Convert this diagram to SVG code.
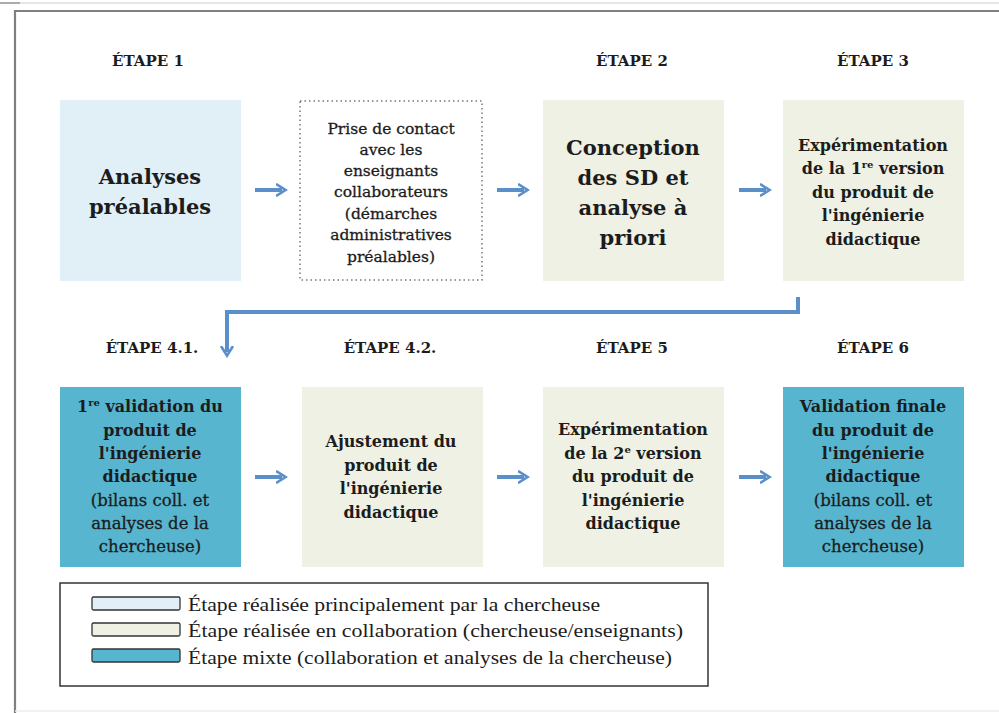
<svg xmlns="http://www.w3.org/2000/svg" width="999" height="713" viewBox="0 0 999 713">
<style>
text{font-family:"DejaVu Serif","Liberation Serif",serif;fill:#1c1c1c;text-anchor:middle}
.step{font-weight:bold;font-size:15px}
.big{font-weight:bold;font-size:21px}
.mid{font-weight:bold;font-size:16px}
.reg{font-weight:normal;font-size:16.5px;stroke:#1c1c1c;stroke-width:0.3}
.dot{font-weight:normal;font-size:15.5px;stroke:#1c1c1c;stroke-width:0.3}
.leg{font-family:"Liberation Serif",serif;font-size:19px;text-anchor:start}
.a{fill:#e1f0f7}.b{fill:#eef1e4}.c{fill:#57b5cf}
.conn{stroke:#5b8fca;stroke-width:4;fill:none}
</style>
<defs>
<marker id="ah" viewBox="0 0 10 10" refX="5" refY="5" markerWidth="3" markerHeight="3.5" orient="auto" markerUnits="strokeWidth">
<path d="M0,0 L8,5 L0,10" fill="none" stroke="#5b8fca" stroke-width="2.2"/>
</marker>
</defs>
<rect x="0" y="0" width="999" height="713" fill="#fff"/>
<line x1="0" y1="3" x2="999" y2="3" stroke="#e6e6e6" stroke-width="2"/>
<line x1="0" y1="3" x2="20" y2="3" stroke="#999" stroke-width="1.5"/>
<path d="M15,713 L15,11 L999,11" fill="none" stroke="#7f7f7f" stroke-width="2.2"/>
<line x1="15" y1="711" x2="999" y2="711" stroke="#eeeeee" stroke-width="1.5"/>

<g id="labels">
<text class="step" x="148" y="66">ÉTAPE 1</text>
<text class="step" x="632" y="66">ÉTAPE 2</text>
<text class="step" x="873" y="66">ÉTAPE 3</text>
<text class="step" x="152" y="353">ÉTAPE 4.1.</text>
<text class="step" x="390" y="353">ÉTAPE 4.2.</text>
<text class="step" x="632" y="353">ÉTAPE 5</text>
<text class="step" x="873" y="353">ÉTAPE 6</text>
</g>

<g id="n1"><rect class="a" x="60" y="100" width="181" height="181"/>
<text class="big" x="150" y="184">Analyses</text><text class="big" x="150" y="214">préalables</text></g>

<g id="n_contact"><rect x="300" y="101" width="182" height="179" fill="#fff" stroke="#777" stroke-width="1.5" stroke-dasharray="1.5,3"/>
<text class="dot" x="391" y="134">Prise de contact</text>
<text class="dot" x="391" y="155">avec les</text>
<text class="dot" x="391" y="176">enseignants</text>
<text class="dot" x="391" y="197">collaborateurs</text>
<text class="dot" x="391" y="219">(démarches</text>
<text class="dot" x="391" y="240">administratives</text>
<text class="dot" x="391" y="262">préalables)</text></g>

<g id="n2"><rect class="b" x="543" y="100" width="181" height="181"/>
<text class="big" x="633" y="155">Conception</text>
<text class="big" x="633" y="185">des SD et</text>
<text class="big" x="633" y="215">analyse à</text>
<text class="big" x="633" y="245">priori</text></g>

<g id="n3"><rect class="b" x="783" y="100" width="181" height="181"/>
<text class="mid" x="873" y="151">Expérimentation</text>
<text class="mid" x="873" y="174">de la 1<tspan font-size="10" dy="-6">re</tspan><tspan dy="6"> version</tspan></text>
<text class="mid" x="873" y="198">du produit de</text>
<text class="mid" x="873" y="221">l'ingénierie</text>
<text class="mid" x="873" y="245">didactique</text></g>

<g id="n41"><rect class="c" x="60" y="387" width="181" height="180"/>
<text class="mid" x="150" y="412">1<tspan font-size="10" dy="-6">re</tspan><tspan dy="6"> validation du</tspan></text>
<text class="mid" x="150" y="436">produit de</text>
<text class="mid" x="150" y="459">l'ingénierie</text>
<text class="mid" x="150" y="482">didactique</text>
<text class="reg" x="150" y="506">(bilans coll. et</text>
<text class="reg" x="150" y="529">analyses de la</text>
<text class="reg" x="150" y="552">chercheuse)</text></g>

<g id="n42"><rect class="b" x="302" y="387" width="181" height="180"/>
<text class="mid" x="391" y="447">Ajustement du</text>
<text class="mid" x="391" y="471">produit de</text>
<text class="mid" x="391" y="494">l'ingénierie</text>
<text class="mid" x="391" y="518">didactique</text></g>

<g id="n5"><rect class="b" x="543" y="387" width="181" height="180"/>
<text class="mid" x="633" y="435">Expérimentation</text>
<text class="mid" x="633" y="459">de la 2<tspan font-size="10" dy="-6">e</tspan><tspan dy="6"> version</tspan></text>
<text class="mid" x="633" y="482">du produit de</text>
<text class="mid" x="633" y="506">l'ingénierie</text>
<text class="mid" x="633" y="529">didactique</text></g>

<g id="n6"><rect class="c" x="783" y="387" width="181" height="180"/>
<text class="mid" x="873" y="412">Validation finale</text>
<text class="mid" x="873" y="436">du produit de</text>
<text class="mid" x="873" y="459">l'ingénierie</text>
<text class="mid" x="873" y="482">didactique</text>
<text class="reg" x="873" y="506">(bilans coll. et</text>
<text class="reg" x="873" y="529">analyses de la</text>
<text class="reg" x="873" y="552">chercheuse)</text></g>

<g id="connectors">
<line class="conn" x1="255" y1="190" x2="282" y2="190" marker-end="url(#ah)"/>
<line class="conn" x1="497" y1="190" x2="524" y2="190" marker-end="url(#ah)"/>
<line class="conn" x1="739" y1="190" x2="766" y2="190" marker-end="url(#ah)"/>
<line class="conn" x1="255" y1="477" x2="282" y2="477" marker-end="url(#ah)"/>
<line class="conn" x1="497" y1="477" x2="524" y2="477" marker-end="url(#ah)"/>
<line class="conn" x1="739" y1="477" x2="766" y2="477" marker-end="url(#ah)"/>
<path class="conn" d="M798,297 L798,312 L227,312 L227,352" marker-end="url(#ah)"/>
</g>

<g id="legend">
<rect x="60" y="583" width="648" height="103" fill="#fff" stroke="#333" stroke-width="1.5"/>
<rect class="a" x="92" y="597" width="88" height="13" rx="1.5" stroke="#333" stroke-width="1.3"/>
<rect class="b" x="92" y="623" width="88" height="13" rx="1.5" stroke="#333" stroke-width="1.3"/>
<rect class="c" x="92" y="649" width="88" height="13" rx="1.5" stroke="#333" stroke-width="1.3"/>
<text class="leg" x="188" y="611" textLength="412" lengthAdjust="spacingAndGlyphs">Étape réalisée principalement par la chercheuse</text>
<text class="leg" x="188" y="637" textLength="495" lengthAdjust="spacingAndGlyphs">Étape réalisée en collaboration (chercheuse/enseignants)</text>
<text class="leg" x="188" y="664" textLength="484" lengthAdjust="spacingAndGlyphs">Étape mixte (collaboration et analyses de la chercheuse)</text>
</g>
</svg>
